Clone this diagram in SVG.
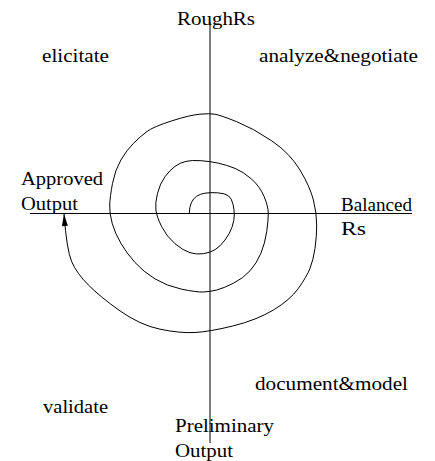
<svg xmlns="http://www.w3.org/2000/svg" width="435" height="461" viewBox="0 0 435 461">
<style>
text{font-family:"Liberation Serif","Times New Roman",serif;font-size:19px;fill:#000}
.ax{stroke:#000;stroke-width:1;fill:none}
.sp{stroke:#000;stroke-width:1;fill:none}
</style>
<defs>
<marker id="ah" markerUnits="userSpaceOnUse" markerWidth="12" markerHeight="6" refX="12" refY="3" orient="auto" overflow="visible">
<path d="M0,0 L12,3 L0,6 z" fill="#000"/>
</marker>
</defs>
<rect width="435" height="461" fill="#fff"/>
<g id="axes">
<line class="ax" x1="210" y1="22" x2="210" y2="443" stroke="#000"/>
<line class="ax" x1="30" y1="213.5" x2="412" y2="213.5"/>
</g>
<g id="connectors">
<path class="sp" marker-end="url(#ah)" d="M189.3,213.3 Q189.3,207.3 191.3,202.8 Q193.3,198.3 196.7,196.2 Q200,194 205,193.2 Q210,192.3 217.5,192.8 Q225,193.3 228.4,195.8 Q231.7,198.3 233,204.2 Q234.3,210 234.3,215 Q234.3,220 232.2,226.7 Q230,233.3 225,240 Q220,246.7 215,249.7 Q210,252.7 203.4,253.7 Q196.7,254.7 190,252.7 Q183.3,250.7 175,243.7 Q166.7,236.7 161.7,226.7 Q156.7,216.7 155.9,210 Q155,203.3 157.5,193.3 Q160,183.3 165,176.7 Q170,170 175,166.4 Q180,162.7 185.9,161.4 Q191.7,160 200.9,160.7 Q210,161.3 218.4,163.2 Q226.7,165 235,168.4 Q243.3,171.7 251.7,179.2 Q260,186.7 264.2,196.7 Q268.3,206.7 268.3,213.4 Q268.3,220 266.7,231.7 Q265,243.3 260.9,253.3 Q256.7,263.3 250,270.8 Q243.3,278.3 233.3,283.3 Q223.3,288.3 216.7,290 Q210,291.7 203.4,292 Q196.7,292.3 181.7,289.2 Q166.7,286 155,278.9 Q143.3,271.7 135,262.5 Q126.7,253.3 120.9,243.3 Q115,233.3 112.2,223.3 Q109.3,213.3 109.7,205 Q110,196.7 112.5,183.4 Q115,170 120.9,160 Q126.7,150 133.4,143.4 Q140,136.7 146.7,131.7 Q153.3,126.7 171.7,120.9 Q190,115 199.9,114.2 Q209.7,113.3 214.9,114.2 Q220,115 236.7,121.7 Q253.3,128.3 271.7,140.8 Q290,153.3 300,170 Q310,186.7 313.4,200 Q316.7,213.3 316.7,225 Q316.7,236.7 315,248.4 Q313.3,260 310,268.4 Q306.7,276.7 298.4,288.4 Q290,300 273.4,310 Q256.7,320 233.2,325.9 Q209.7,331.7 194.9,332.5 Q180,333.3 160,329.2 Q140,325 120,310.9 Q100,296.7 88.4,285 Q76.7,273.3 71.7,261.7 Q66.7,250 64,214"/>
</g>
<g id="roughrs"><text x="177" y="25" textLength="78" lengthAdjust="spacingAndGlyphs">RoughRs</text></g>
<g id="elicitate"><text x="42" y="62" textLength="67" lengthAdjust="spacingAndGlyphs">elicitate</text></g>
<g id="analyze"><text x="259" y="62" textLength="159" lengthAdjust="spacingAndGlyphs">analyze&amp;negotiate</text></g>
<g id="approved">
<text x="21" y="185" textLength="82" lengthAdjust="spacingAndGlyphs">Approved</text>
<text x="21" y="210" textLength="57" lengthAdjust="spacingAndGlyphs">Output</text>
</g>
<g id="balanced">
<text x="341" y="211" textLength="71" lengthAdjust="spacingAndGlyphs">Balanced</text>
<text x="341" y="235" textLength="25" lengthAdjust="spacingAndGlyphs">Rs</text>
</g>
<g id="document"><text x="255" y="390" textLength="153" lengthAdjust="spacingAndGlyphs">document&amp;model</text></g>
<g id="validate"><text x="43" y="413" textLength="65" lengthAdjust="spacingAndGlyphs">validate</text></g>
<g id="preliminary">
<text x="175" y="432" textLength="99" lengthAdjust="spacingAndGlyphs">Preliminary</text>
<text x="175" y="457" textLength="58" lengthAdjust="spacingAndGlyphs">Output</text>
</g>
</svg>
